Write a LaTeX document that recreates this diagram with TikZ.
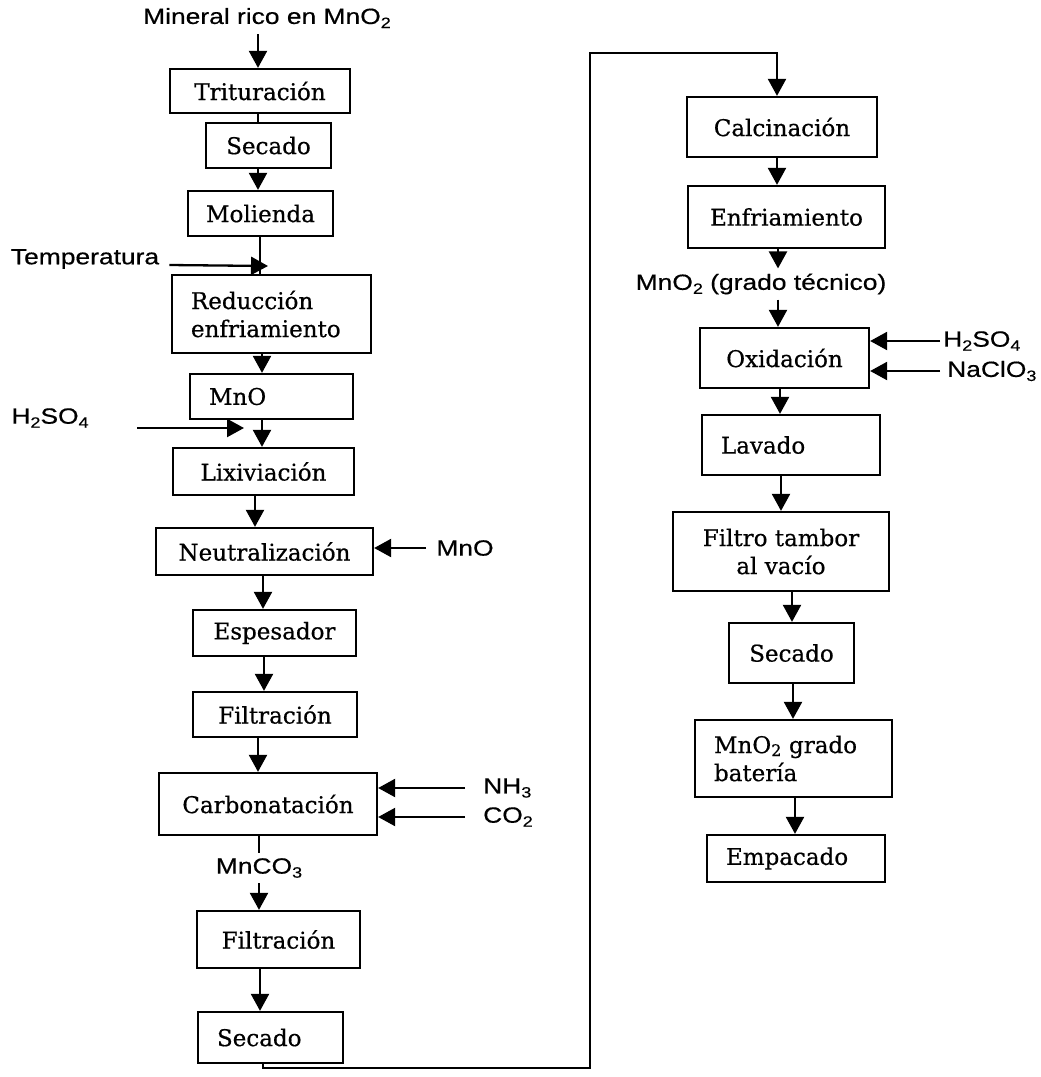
\documentclass[tikz,border=0pt]{standalone}
\usepackage{fontspec}
\setmainfont{DejaVu Serif}[FakeBold=0.6]
\newfontfamily\labfont{Liberation Sans}[FakeStretch=1.2,FakeBold=0.5]
\usetikzlibrary{arrows.meta}
\newcommand\bsub[1]{\raisebox{-0.25ex}{\fontsize{16}{16}\selectfont #1}}
\newcommand\lsub[1]{\raisebox{-0.35ex}{\fontsize{15}{15}\selectfont #1}}
\begin{document}
\begin{tikzpicture}[x=1pt,y=-1pt,
  box/.style={draw, line width=2.3pt, inner sep=0pt, font=\fontsize{23}{28}\selectfont, align=center},
  lbox/.style={box, align=left, inner xsep=19pt},
  lab/.style={font={\labfont\fontsize{22}{26}\selectfont}, inner sep=0pt},
  arr/.style={line width=2.3pt, -{Triangle[length=17pt,width=18pt]}},
  ln/.style={line width=2.3pt}]
\useasboundingbox (0,0) rectangle (1041,1077);
% ---- left column ----
\node[lab, inner ysep=6pt] (min) at (267,18) {Mineral rico en MnO\lsub{2}};
\node[box, minimum width=180pt, minimum height=44pt] (tri) at (260,91) {Trituración};
\node[box, minimum width=125pt, minimum height=45pt] (sec1) at (268.5,145.5) {Secado};
\node[box, minimum width=145pt, minimum height=45pt] (mol) at (260.5,213.5) {Molienda};
\node[lab] (temp) at (85,259) {Temperatura};
\node[lbox, minimum width=199pt, minimum height=78pt, text width=161pt] (red) at (271.5,314) {Reducción\\enfriamiento};
\node[lbox, minimum width=163pt, minimum height=45pt, text width=125pt] (mno) at (271.5,396.5) {MnO};
\node[lab] (h2l) at (50,418) {H\lsub{2}SO\lsub{4}};
\node[box, minimum width=181pt, minimum height=47pt] (lix) at (263.5,471.5) {Lixiviación};
\node[box, minimum width=217pt, minimum height=47pt] (neu) at (264.5,551.5) {Neutralización};
\node[lab] (mnor) at (465,548) {MnO};
\node[box, minimum width=163pt, minimum height=46pt] (esp) at (274.5,633) {Espesador};
\node[box, minimum width=164pt, minimum height=45pt] (fil1) at (275,714.5) {Filtración};
\node[box, minimum width=218pt, minimum height=62pt] (car) at (268,804) {Carbonatación};
\node[lab, anchor=west] (nh3) at (483,788) {NH\lsub{3}};
\node[lab, anchor=west] (co2) at (483,817) {CO\lsub{2}};
\node[lab, inner ysep=5pt] (mnco) at (259,868) {MnCO\lsub{3}};
\node[box, minimum width=163pt, minimum height=57pt] (fil2) at (278.5,939.5) {Filtración};
\node[lbox, minimum width=145pt, minimum height=51pt, text width=107pt] (sec2) at (270.5,1037.5) {Secado};
% ---- right column ----
\node[box, minimum width=190pt, minimum height=60pt] (cal) at (782,127) {Calcinación};
\node[box, minimum width=197pt, minimum height=62pt] (enf) at (786.5,217) {Enfriamiento};
\node[lab, inner ysep=5pt] (grado) at (761,284) {MnO\lsub{2} (grado técnico)};
\node[box, minimum width=169pt, minimum height=60pt] (oxi) at (784.5,358) {Oxidación};
\node[lab, anchor=west] (h2r) at (943,341) {H\lsub{2}SO\lsub{4}};
\node[lab, anchor=west] (naclo) at (947,371) {NaClO\lsub{3}};
\node[lbox, minimum width=178pt, minimum height=60pt, text width=140pt] (lav) at (791,445) {Lavado};
\node[box, minimum width=216pt, minimum height=79pt] (filt) at (781,551.5) {Filtro tambor\\al vacío};
\node[box, minimum width=125pt, minimum height=60pt] (sec3) at (791.5,653) {Secado};
\node[lbox, minimum width=197pt, minimum height=77pt, text width=159pt] (bat) at (793.5,758.5) {MnO\bsub{2} grado\\batería};
\node[lbox, minimum width=178pt, minimum height=47pt, text width=140pt] (emp) at (796,858.5) {Empacado};
% ---- free ends ----
\coordinate (tin) at (268,266);
\coordinate (h2s) at (137,428);
\coordinate (h2e) at (244,428);
\coordinate (c1) at (263,1068);
\coordinate (c2) at (590,1068);
\coordinate (c3) at (590,53);
\coordinate (c4) at (777,53);
% ---- connectors left ----
\draw[arr] (min.south -| 258,0) -- (tri.north -| 258,0);
\draw[ln] (tri.south -| 258,0) -- (sec1.north -| 258,0);
\draw[arr] (sec1.south -| 258,0) -- (mol.north -| 258,0);
\draw[ln] (mol.south -| 260,0) -- (red.north -| 260,0);
\draw[arr] ([xshift=10pt,yshift=-6pt]temp.east) -- (tin);
\draw[arr] (red.south -| 262,0) -- (mno.north -| 262,0);
\draw[arr] (mno.south -| 262,0) -- (lix.north -| 262,0);
\draw[arr] (h2s) -- (h2e);
\draw[arr] (lix.south -| 255,0) -- (neu.north -| 255,0);
\draw[arr] ([xshift=-10pt]mnor.west) -- (neu.east |- mnor.west);
\draw[arr] (neu.south -| 263,0) -- (esp.north -| 263,0);
\draw[arr] (esp.south -| 264,0) -- (fil1.north -| 264,0);
\draw[arr] (fil1.south -| 258,0) -- (car.north -| 258,0);
\draw[arr] ([xshift=-18pt]nh3.west) -- (car.east |- nh3.west);
\draw[arr] ([xshift=-18pt]co2.west) -- (car.east |- co2.west);
\draw[ln] (car.south -| 259,0) -- (mnco.north -| 259,0);
\draw[arr] (mnco.south -| 259,0) -- (fil2.north -| 259,0);
\draw[arr] (fil2.south -| 260,0) -- (sec2.north -| 260,0);
% ---- loop ----
\draw[arr] (sec2.south -| 263,0) -- (c1) -- (c2) -- (c3) -- (c4) -- (cal.north -| 777,0);
% ---- connectors right ----
\draw[arr] (cal.south -| 777,0) -- (enf.north -| 777,0);
\draw[arr] (enf.south -| 778,0) -- (grado.north -| 778,0);
\draw[arr] (grado.south -| 778,0) -- (oxi.north -| 778,0);
\draw[arr] ([xshift=-3pt]h2r.west) -- (oxi.east |- h2r.west);
\draw[arr] ([xshift=-7pt]naclo.west) -- (oxi.east |- naclo.west);
\draw[arr] (oxi.south -| 780,0) -- (lav.north -| 780,0);
\draw[arr] (lav.south -| 781,0) -- (filt.north -| 781,0);
\draw[arr] (filt.south -| 792,0) -- (sec3.north -| 792,0);
\draw[arr] (sec3.south -| 793,0) -- (bat.north -| 793,0);
\draw[arr] (bat.south -| 795,0) -- (emp.north -| 795,0);
\end{tikzpicture}
\end{document}
